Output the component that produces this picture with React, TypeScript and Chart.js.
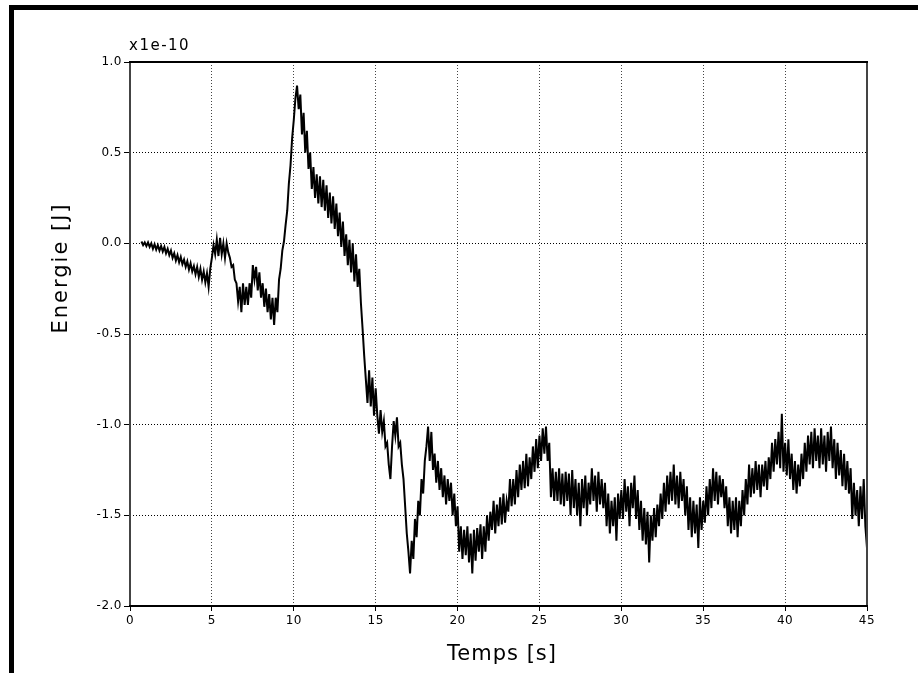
import React, { useEffect, useRef } from 'react';
import { Chart, registerables } from 'chart.js';

Chart.register(...registerables);

// Sampling grid of the recorded signal (seconds)
const timeStart = 0.7;
const timeStep = 0.1;

// Energy samples (units of 1e-10 J), one row per second
const energy: number[] = [
  0.01, -0.01, 0.005, -0.015,
  0.005, -0.02, 0.0, -0.03, -0.005, -0.035, -0.01, -0.04, -0.015, -0.045,
  -0.02, -0.055, -0.03, -0.065, -0.04, -0.08, -0.055, -0.095, -0.065, -0.105,
  -0.075, -0.115, -0.09, -0.13, -0.1, -0.145, -0.11, -0.155, -0.125, -0.17,
  -0.13, -0.185, -0.14, -0.2, -0.155, -0.215, -0.165, -0.24, -0.14, -0.08,
  -0.01, -0.06, 0.02, -0.07, 0.03, -0.06, 0.0, -0.08, 0.0, -0.05,
  -0.08, -0.13, -0.12, -0.2, -0.22, -0.32, -0.24, -0.38, -0.22, -0.34,
  -0.24, -0.34, -0.22, -0.3, -0.12, -0.2, -0.13, -0.26, -0.16, -0.3,
  -0.22, -0.35, -0.25, -0.38, -0.28, -0.42, -0.3, -0.45, -0.3, -0.38,
  -0.2, -0.14, -0.04, 0.01, 0.1, 0.18, 0.33, 0.43, 0.58, 0.68,
  0.8, 0.87, 0.74, 0.82, 0.6, 0.72, 0.5, 0.62, 0.41, 0.5,
  0.3, 0.42, 0.25, 0.38, 0.22, 0.37, 0.2, 0.35, 0.18, 0.32,
  0.14, 0.28, 0.11, 0.26, 0.08, 0.22, 0.04, 0.17, -0.02, 0.12,
  -0.07, 0.05, -0.12, 0.02, -0.16, 0.0, -0.21, -0.06, -0.24, -0.14,
  -0.33, -0.47, -0.62, -0.75, -0.88, -0.7, -0.9, -0.74, -0.95, -0.8,
  -0.95, -1.05, -0.92, -1.04, -0.98, -1.12, -1.1, -1.22, -1.3, -1.12,
  -0.98, -1.06, -0.96, -1.12, -1.1, -1.22, -1.3, -1.45, -1.6, -1.7,
  -1.82, -1.64, -1.74, -1.52, -1.62, -1.42, -1.5, -1.3, -1.38, -1.2,
  -1.12, -1.01, -1.2, -1.04, -1.25, -1.16, -1.32, -1.2, -1.36, -1.24,
  -1.4, -1.28, -1.44, -1.3, -1.42, -1.32, -1.5, -1.38, -1.56, -1.45,
  -1.7, -1.56, -1.74, -1.58, -1.72, -1.56, -1.76, -1.6, -1.82, -1.58,
  -1.75, -1.57, -1.7, -1.55, -1.74, -1.56, -1.7, -1.5, -1.64, -1.48,
  -1.58, -1.42, -1.6, -1.44, -1.56, -1.4, -1.55, -1.38, -1.54, -1.42,
  -1.48, -1.3, -1.45, -1.3, -1.44, -1.25, -1.4, -1.22, -1.36, -1.2,
  -1.35, -1.16, -1.34, -1.18, -1.3, -1.12, -1.26, -1.08, -1.24, -1.06,
  -1.2, -1.02, -1.16, -1.01, -1.2, -1.1, -1.4, -1.24, -1.42, -1.26,
  -1.42, -1.24, -1.44, -1.27, -1.45, -1.26, -1.42, -1.27, -1.5, -1.25,
  -1.46, -1.3, -1.5, -1.32, -1.56, -1.3, -1.46, -1.28, -1.5, -1.32,
  -1.44, -1.24, -1.42, -1.28, -1.48, -1.26, -1.44, -1.3, -1.46, -1.32,
  -1.56, -1.38, -1.6, -1.42, -1.56, -1.4, -1.64, -1.38, -1.52, -1.36,
  -1.52, -1.3, -1.48, -1.34, -1.56, -1.32, -1.46, -1.28, -1.52, -1.36,
  -1.58, -1.42, -1.64, -1.46, -1.66, -1.48, -1.76, -1.5, -1.64, -1.46,
  -1.62, -1.44, -1.56, -1.38, -1.52, -1.32, -1.48, -1.28, -1.44, -1.26,
  -1.42, -1.22, -1.44, -1.28, -1.46, -1.26, -1.42, -1.3, -1.5, -1.34,
  -1.58, -1.4, -1.62, -1.42, -1.6, -1.44, -1.68, -1.4, -1.58, -1.42,
  -1.54, -1.34, -1.5, -1.3, -1.46, -1.24, -1.42, -1.26, -1.44, -1.28,
  -1.4, -1.3, -1.46, -1.34, -1.56, -1.4, -1.6, -1.42, -1.58, -1.4,
  -1.62, -1.42, -1.56, -1.36, -1.5, -1.3, -1.44, -1.22, -1.4, -1.24,
  -1.38, -1.2, -1.36, -1.22, -1.4, -1.22, -1.34, -1.2, -1.36, -1.18,
  -1.3, -1.1, -1.26, -1.08, -1.22, -1.04, -1.24, -0.94, -1.26, -1.1,
  -1.28, -1.08, -1.3, -1.16, -1.36, -1.2, -1.38, -1.22, -1.34, -1.16,
  -1.3, -1.1, -1.26, -1.06, -1.22, -1.04, -1.24, -1.02, -1.2, -1.06,
  -1.24, -1.02, -1.22, -1.06, -1.26, -1.04, -1.2, -1.01, -1.24, -1.08,
  -1.3, -1.1, -1.28, -1.14, -1.34, -1.16, -1.36, -1.2, -1.38, -1.24,
  -1.52, -1.32, -1.5, -1.36, -1.56, -1.34, -1.52, -1.3, -1.56, -1.68,
];

const xTicks = [0, 5, 10, 15, 20, 25, 30, 35, 40, 45];
const yTicks = [-2.0, -1.5, -1.0, -0.5, 0.0, 0.5, 1.0];
const xTitle = 'Temps [s]';
const yTitle = 'Energie [J]';
const scaleLabel = 'x1e-10';

const FONT = '"DejaVu Sans", Verdana, sans-serif';

export default function App() {
  const ref = useRef<HTMLCanvasElement>(null);

  useEffect(() => {
    const canvas = ref.current;
    if (!canvas) return;
    const points = energy.map((v, i) => ({
      x: Math.round((timeStart + i * timeStep) * 100) / 100,
      y: v,
    }));

    const figPlugin = {
      id: 'figText',
      beforeDraw(chart: any) {
        const ctx = chart.ctx;
        ctx.save();
        ctx.fillStyle = '#fff';
        ctx.fillRect(0, 0, chart.width, chart.height);
        ctx.restore();
        ctx.letterSpacing = '0.5px';
      },
      afterDraw(chart: any) {
        const ctx = chart.ctx;
        const a = chart.chartArea;
        ctx.save();
        ctx.lineWidth = 2;
        ctx.strokeStyle = '#444';
        ctx.beginPath();
        ctx.moveTo(a.left, a.top);
        ctx.lineTo(a.left, a.bottom);
        ctx.moveTo(a.right, a.top);
        ctx.lineTo(a.right, a.bottom);
        ctx.stroke();
        ctx.strokeStyle = '#000';
        ctx.beginPath();
        ctx.moveTo(a.left - 1, a.top);
        ctx.lineTo(a.right + 1, a.top);
        ctx.moveTo(a.left - 1, a.bottom);
        ctx.lineTo(a.right + 1, a.bottom);
        ctx.stroke();

        ctx.fillStyle = '#000';
        ctx.font = '15px ' + FONT;
        ctx.letterSpacing = '1.5px';
        ctx.textAlign = 'left';
        ctx.textBaseline = 'alphabetic';
        ctx.fillText(scaleLabel, a.left - 1, a.top - 12);

        ctx.font = '21px ' + FONT;
        ctx.letterSpacing = '1px';
        ctx.textAlign = 'center';
        ctx.textBaseline = 'middle';
        ctx.fillText(xTitle, a.left + 372, a.bottom + 49);
        ctx.letterSpacing = '2px';
        ctx.translate(a.left - 68, a.top + 206);
        ctx.rotate(-Math.PI / 2);
        ctx.fillText(yTitle, 0, 0);
        ctx.restore();
      },
    };

    const chart = new Chart(canvas, {
      type: 'line',
      data: {
        datasets: [
          {
            data: points,
            borderColor: '#000',
            borderWidth: 2,
            pointRadius: 0,
            tension: 0,
            fill: false,
          },
        ],
      },
      options: {
        animation: false,
        responsive: false,
        devicePixelRatio: 1,
        layout: { padding: { left: 0, top: 62, right: 51, bottom: 0 } },
        plugins: {
          legend: { display: false },
          tooltip: { enabled: false },
          title: { display: false },
        },
        scales: {
          x: {
            type: 'linear',
            min: 0,
            max: 45,
            afterBuildTicks: (s: any) => {
              s.ticks = xTicks.map((v) => ({ value: v }));
            },
            afterFit: (s: any) => {
              s.height = 67;
            },
            ticks: {
              color: '#000',
              font: { family: FONT, size: 12 },
              padding: 3,
              maxRotation: 0,
              autoSkip: false,
              callback: (v: any) => String(v),
            },
            grid: {
              color: '#444',
              lineWidth: 1,
              tickLength: 5,
              tickColor: '#000',
              tickWidth: 1,
              tickBorderDash: [],
            },
            border: { display: false, dash: [1, 2] },
          },
          y: {
            type: 'linear',
            min: -2,
            max: 1,
            afterBuildTicks: (s: any) => {
              s.ticks = yTicks.map((v) => ({ value: v }));
            },
            afterFit: (s: any) => {
              s.width = 130;
            },
            ticks: {
              color: '#000',
              font: { family: FONT, size: 12 },
              padding: 2,
              autoSkip: false,
              callback: (v: any) => Number(v).toFixed(1),
            },
            grid: {
              color: '#000',
              lineWidth: 1,
              tickLength: 6,
              tickColor: '#000',
              tickWidth: 1,
              tickBorderDash: [],
            },
            border: { display: false, dash: [1, 2] },
          },
        },
      },
      plugins: [figPlugin],
    } as any);

    return () => chart.destroy();
  }, []);

  return (
    <div style={{ position: 'absolute', left: 0, top: 0, width: 918, height: 673, overflow: 'hidden', background: '#fff' }}>
      <canvas ref={ref} width={918} height={673} style={{ position: 'absolute', left: 0, top: 0, width: 918, height: 673 }} />
      <div
        style={{
          position: 'absolute',
          left: 9,
          top: 5,
          width: 1000,
          height: 1000,
          borderTop: '5px solid #000',
          borderLeft: '5px solid #000',
          pointerEvents: 'none',
        }}
      />
    </div>
  );
}
